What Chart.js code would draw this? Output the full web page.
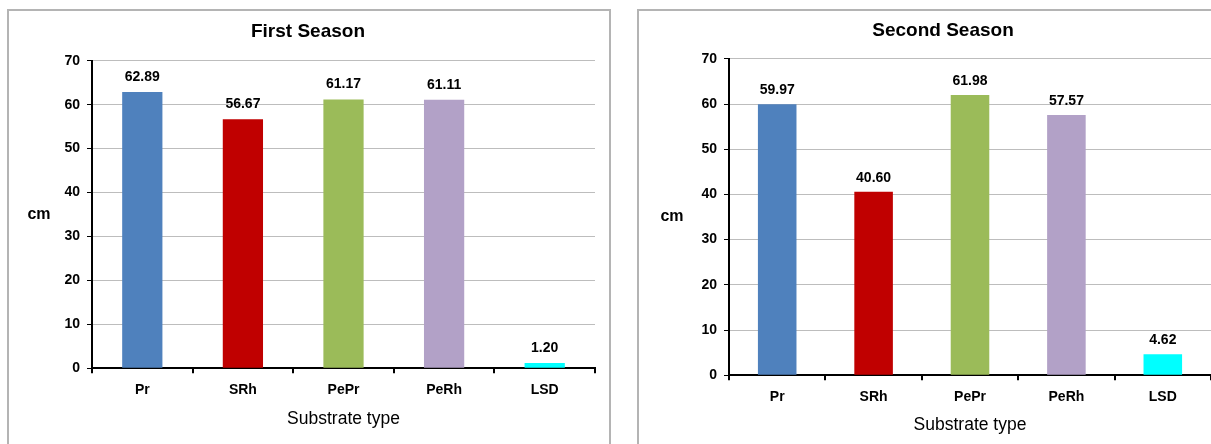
<!DOCTYPE html>
<html>
<head>
<meta charset="utf-8">
<script src="https://cdn.jsdelivr.net/npm/chart.js@4"></script>
<style>
  body { margin: 0; background: #fff; width: 1211px; height: 444px; overflow: hidden; position: relative; }
  .box { position: absolute; border: 2px solid #b4b4b4; box-sizing: border-box; }
  canvas { position: absolute; }
</style>
</head>
<body>
<div class="box" style="left:7px; top:9px; width:604px; height:450px;"></div>
<div class="box" style="left:637px; top:9px; width:590px; height:450px;"></div>
<canvas id="c1" width="600" height="434" style="left:8px; top:10px;"></canvas>
<canvas id="c2" width="573" height="434" style="left:638px; top:10px;"></canvas>
<script>
// data
const categories = ['Pr', 'SRh', 'PePr', 'PeRh', 'LSD'];
const firstSeason = [62.89, 56.67, 61.17, 61.11, 1.20];
const secondSeason = [59.97, 40.60, 61.98, 57.57, 4.62];
const barColors = ['#4F81BD', '#C00000', '#9BBB59', '#B2A1C7', '#00FFFF'];
const yTicks = [0, 10, 20, 30, 40, 50, 60, 70];

const FONT = '"Liberation Sans", Arial, sans-serif';

// value labels above bars + horizontal "cm" unit label
const barLabels = {
  id: 'barLabels',
  afterDatasetsDraw(chart, args, opts) {
    const ctx = chart.ctx;
    const meta = chart.getDatasetMeta(0);
    const vals = chart.data.datasets[0].data;
    ctx.save();
    ctx.fillStyle = '#000';
    ctx.textAlign = 'center';
    ctx.textBaseline = 'middle';
    ctx.font = 'bold 14px ' + FONT;
    meta.data.forEach((bar, i) => {
      ctx.fillText(vals[i].toFixed(2), bar.x, bar.y - opts.gap);
    });
    const a = chart.chartArea;
    ctx.font = 'bold 16px ' + FONT;
    ctx.fillText('cm', opts.unitX, (a.top + a.bottom) / 2);
    ctx.restore();
  }
};

function drawChart(id, title, values, lay) {
  return new Chart(document.getElementById(id), {
    type: 'bar',
    data: {
      labels: categories,
      datasets: [{
        data: values,
        backgroundColor: barColors,
        barPercentage: 0.4,
        categoryPercentage: 1
      }]
    },
    options: {
      responsive: false,
      animation: false,
      layout: { padding: { left: lay.padL, right: lay.padR, top: 0, bottom: lay.padB } },
      plugins: {
        legend: { display: false },
        tooltip: { enabled: false },
        title: {
          display: true,
          text: title,
          color: '#000',
          font: { family: FONT, size: 19, weight: 'bold' },
          padding: { top: lay.titleTop, bottom: lay.titleBottom }
        },
        barLabels: { gap: lay.gap, unitX: lay.unitX }
      },
      scales: {
        x: {
          grid: { drawOnChartArea: false, drawTicks: true, tickLength: 5, tickColor: '#000', lineWidth: 2 },
          border: { color: '#000', width: 2 },
          ticks: { color: '#000', padding: 9, font: { family: FONT, size: 14, weight: 'bold' } },
          title: {
            display: true,
            text: 'Substrate type',
            color: '#000',
            font: { family: FONT, size: 17.5 },
            padding: { top: lay.xTitlePad, bottom: 0 }
          }
        },
        y: {
          min: 0,
          max: 70,
          afterBuildTicks: s => { s.ticks = yTicks.map(v => ({ value: v })); },
          afterFit: s => { s.width = lay.yWidth; },
          grid: { color: '#bdbdbd', lineWidth: 1, tickLength: 5, tickColor: '#000' },
          border: { color: '#000', width: 2 },
          ticks: { color: '#000', padding: 7, font: { family: FONT, size: 14, weight: 'bold' } }
        }
      }
    },
    plugins: [barLabels]
  });
}

drawChart('c1', 'First Season', firstSeason,
  { padL: 13, padR: 13, padB: 14, yWidth: 71, titleTop: 10, titleBottom: 18, xTitlePad: 1, gap: 15, unitX: 31 });
drawChart('c2', 'Second Season', secondSeason,
  { padL: 37, padR: 0, padB: 8, yWidth: 54, titleTop: 9, titleBottom: 17, xTitlePad: 0, gap: 14, unitX: 34 });
</script>
</body>
</html>
